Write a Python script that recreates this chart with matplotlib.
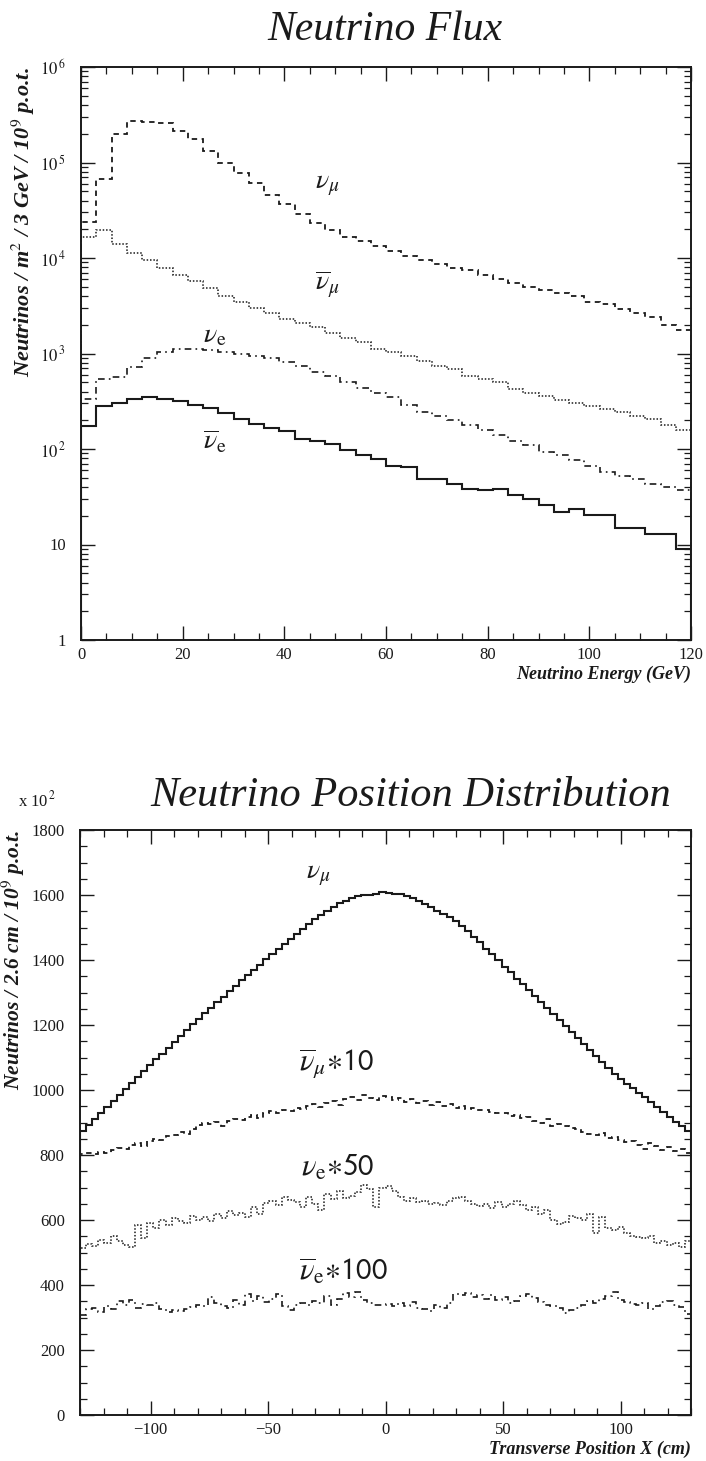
import numpy as np
import matplotlib
matplotlib.use("Agg")
from matplotlib import pyplot as plt
from matplotlib.ticker import FixedLocator, FixedFormatter, MultipleLocator, LogLocator, NullFormatter

plt.rcParams['font.family'] = ['Liberation Serif', 'DejaVu Serif']
plt.rcParams['mathtext.fontset'] = 'stix'

# ---- top panel: flux per 3 GeV bin, 0..120 GeV ----
energy_edges = np.arange(0, 121, 3)
numu = [2.4e4, 6.7e4, 2.0e5, 2.7e5, 2.67e5, 2.57e5, 2.15e5, 1.75e5, 1.33e5, 1.0e5,
        7.8e4, 6.1e4, 4.6e4, 3.7e4, 2.9e4, 2.3e4, 1.95e4, 1.67e4, 1.5e4, 1.32e4,
        1.18e4, 1.04e4, 9.6e3, 8.6e3, 7.9e3, 7.4e3, 6.7e3, 6.1e3, 5.5e3, 5.0e3,
        4.6e3, 4.3e3, 4.0e3, 3.5e3, 3.3e3, 2.9e3, 2.65e3, 2.4e3, 2.0e3, 1.78e3]
numubar = [1.65e4, 1.95e4, 1.41e4, 1.14e4, 9.6e3, 7.9e3, 6.7e3, 5.8e3, 4.8e3, 4.0e3,
           3.5e3, 3.0e3, 2.65e3, 2.3e3, 2.07e3, 1.9e3, 1.65e3, 1.47e3, 1.31e3, 1.12e3,
           1.04e3, 948, 826, 736, 681, 584, 541, 501, 430, 383,
           355, 328, 304, 282, 261, 242, 224, 204, 178, 158]
nue = [330, 541, 562, 719, 891, 1040, 1120, 1120, 1080, 1040,
       1000, 940, 900, 820, 740, 640, 580, 500, 440, 390,
       350, 290, 242, 224, 200, 178, 158, 141, 121, 110,
       93, 86, 76, 66, 58, 52, 48, 43, 40, 37]
nuebar = [175, 282, 304, 336, 347, 336, 316, 288, 267, 236,
          207, 181, 167, 153, 128, 120, 112, 97, 86, 79,
          66, 65, 48, 48, 43, 38, 37, 38, 33, 30,
          26, 22, 23.5, 20.5, 20.5, 15, 15, 13, 13, 9]

# ---- bottom panel: 2.6 cm bins, -130..130 cm ----
pos_edges = np.linspace(-130, 130, 101)
pos_numu = [875, 893, 912, 930, 948, 966, 985, 1003, 1021, 1040,
            1058, 1076, 1094, 1112, 1130, 1148, 1166, 1184, 1202, 1219,
            1236, 1253, 1270, 1287, 1304, 1320, 1337, 1353, 1369, 1385,
            1402, 1418, 1434, 1450, 1466, 1481, 1496, 1511, 1527, 1540,
            1552, 1564, 1574, 1583, 1591, 1597, 1599, 1601, 1603, 1608,
            1606, 1602, 1604, 1596, 1590, 1582, 1572, 1562, 1552, 1543,
            1533, 1520, 1506, 1490, 1472, 1454, 1435, 1417, 1399, 1380,
            1362, 1343, 1325, 1307, 1288, 1270, 1251, 1233, 1214, 1196,
            1178, 1160, 1141, 1123, 1105, 1086, 1068, 1050, 1035, 1020,
            1006, 992, 977, 963, 948, 933, 918, 903, 888, 873]
pos_numubar10 = [802, 805, 803, 810, 806, 815, 822, 818, 830, 836,
                 828, 842, 850, 845, 858, 862, 870, 866, 880, 893,
                 898, 895, 902, 890, 905, 910, 907, 918, 922, 915,
                 930, 935, 928, 940, 936, 945, 942, 950, 958, 948,
                 960, 966, 955, 972, 980, 968, 985, 975, 970, 982,
                 978, 968, 975, 962, 972, 960, 966, 955, 962, 950,
                 956, 946, 950, 942, 945, 938, 940, 932, 928, 930,
                 920, 924, 915, 918, 906, 900, 910, 888, 895, 890,
                 882, 880, 872, 866, 862, 868, 852, 855, 846, 840,
                 842, 832, 820, 836, 828, 815, 825, 812, 818, 805]
pos_nue50 = [515, 525, 520, 540, 530, 550, 535, 522, 518, 585,
             545, 590, 575, 600, 585, 605, 598, 592, 612, 600,
             608, 598, 620, 605, 628, 615, 622, 610, 640, 618,
             652, 660, 645, 670, 662, 655, 640, 672, 650, 632,
             680, 665, 690, 668, 675, 685, 708, 695, 640, 700,
             705, 690, 672, 660, 668, 655, 660, 648, 652, 645,
             660, 668, 672, 660, 650, 642, 648, 638, 655, 640,
             648, 660, 645, 630, 640, 620, 632, 600, 588, 595,
             612, 605, 600, 620, 560, 610, 575, 568, 580, 560,
             552, 548, 545, 550, 530, 535, 522, 528, 518, 535]
pos_nuebar100 = [308, 325, 330, 318, 335, 325, 352, 340, 355, 330,
                 342, 338, 345, 325, 318, 322, 320, 326, 332, 338,
                 335, 362, 345, 336, 330, 355, 340, 372, 350, 365,
                 348, 358, 372, 335, 322, 340, 345, 338, 352, 345,
                 365, 340, 358, 375, 362, 378, 355, 345, 338, 340,
                 342, 336, 344, 335, 348, 330, 326, 320, 338, 330,
                 345, 372, 368, 375, 362, 370, 358, 368, 355, 362,
                 346, 352, 365, 372, 360, 348, 340, 336, 330, 315,
                 322, 330, 340, 352, 345, 358, 365, 380, 355, 348,
                 342, 338, 345, 326, 334, 348, 352, 340, 332, 310]

ink = '#1a1a1a'
fig = plt.figure(figsize=(7.06, 14.61), dpi=100)

# ---------------- top ----------------
ax1 = fig.add_axes([81 / 706, 1 - 640 / 1461, 610 / 706, 573 / 1461])
ax1.stairs(numu, energy_edges, color=ink, lw=1.3, ls=(0, (3, 2.5)))
ax1.stairs(numubar, energy_edges, color=ink, lw=1.1, ls=(0, (1, 1.2)))
ax1.stairs(nue, energy_edges, color=ink, lw=1.2, ls=(0, (4, 2.5, 1, 2.5)))
ax1.stairs(nuebar, energy_edges, color=ink, lw=1.5, ls='-')
ax1.set_yscale('log')
ax1.set_xlim(0, 120)
ax1.set_ylim(1, 1e6)
ax1.xaxis.set_major_locator(MultipleLocator(20))
ax1.xaxis.set_minor_locator(MultipleLocator(5))
ax1.yaxis.set_major_locator(FixedLocator([1, 10, 1e2, 1e3, 1e4, 1e5, 1e6]))
ax1.yaxis.set_major_formatter(FixedFormatter(['1', '10', r'$10^{\,2}$', r'$10^{\,3}$',
                                              r'$10^{\,4}$', r'$10^{\,5}$', r'$10^{\,6}$']))
ax1.yaxis.set_minor_locator(LogLocator(base=10, subs=np.arange(2, 10)))
ax1.yaxis.set_minor_formatter(NullFormatter())

ax1.text(46, 5.4e4, r'$\nu_{\mu}$', fontsize=20, color=ink)
ax1.text(46, 4.6e3, r'$\overline{\nu}_{\mu}$', fontsize=20, color=ink)
ax1.text(24, 1.3e3, r'$\nu_{\mathrm{e}}$', fontsize=20, color=ink)
ax1.text(24, 100, r'$\overline{\nu}_{\mathrm{e}}$', fontsize=20, color=ink)

fig.text(385 / 706, 1 - 30 / 1461, 'Neutrino Flux', fontsize=30, style='italic',
         ha='center', va='center', color=ink)
ax1.set_xlabel('Neutrino Energy (GeV)', fontsize=13, style='italic', fontweight='bold',
               loc='right', labelpad=2, color=ink)
ax1.set_ylabel(r'Neutrinos / m$^{2}$ / 3 GeV / 10$^{9}$ p.o.t.', fontsize=16,
               style='italic', fontweight='bold', loc='top', labelpad=2, color=ink)

# ---------------- bottom ----------------
ax2 = fig.add_axes([80 / 706, 1 - 1415 / 1461, 611 / 706, 585 / 1461])
ax2.stairs(pos_numu, pos_edges, color=ink, lw=1.5, ls='-')
ax2.stairs(pos_numubar10, pos_edges, color=ink, lw=1.3, ls=(0, (3, 2.5)))
ax2.stairs(pos_nue50, pos_edges, color=ink, lw=1.1, ls=(0, (1, 1.2)))
ax2.stairs(pos_nuebar100, pos_edges, color=ink, lw=1.2, ls=(0, (4, 2.5, 1, 2.5)))
ax2.set_xlim(-130, 130)
ax2.set_ylim(0, 1800)
ax2.xaxis.set_major_locator(MultipleLocator(50))
ax2.xaxis.set_minor_locator(MultipleLocator(10))
ax2.yaxis.set_major_locator(MultipleLocator(200))
ax2.yaxis.set_minor_locator(MultipleLocator(50))

ax2.text(-34, 1650, r'$\nu_{\mu}$', fontsize=20, color=ink)
ax2.text(-37, 1060, r'$\overline{\nu}_{\mu}{\ast}\mathsf{10}$', fontsize=22, color=ink)
ax2.text(-36, 735, r'$\nu_{\mathrm{e}}{\ast}\mathsf{50}$', fontsize=22, color=ink)
ax2.text(-37, 415, r'$\overline{\nu}_{\mathrm{e}}{\ast}\mathsf{100}$', fontsize=22, color=ink)

fig.text(411 / 706, 1 - 796 / 1461, 'Neutrino Position Distribution', fontsize=30.5,
         style='italic', ha='center', va='center', color=ink)
fig.text(18 / 706, 1 - 800 / 1461, r'x 10$^{\,2}$', fontsize=12, ha='left', va='center', color=ink)
ax2.set_xlabel('Transverse Position X (cm)', fontsize=13, style='italic', fontweight='bold',
               loc='right', labelpad=2, color=ink)
ax2.set_ylabel(r'Neutrinos / 2.6 cm / 10$^{9}$ p.o.t.', fontsize=15.5,
               style='italic', fontweight='bold', loc='top', labelpad=3, color=ink)

for ax in (ax1, ax2):
    ax.tick_params(which='both', direction='in', top=True, right=True,
                   labelsize=12, colors=ink)
    ax.tick_params(axis='x', which='both', pad=5)
    ax.tick_params(axis='y', which='both', pad=11)
    ax.tick_params(which='major', length=10, width=1.0)
    ax.tick_params(which='minor', length=5, width=0.9)
    for s in ax.spines.values():
        s.set_linewidth(1.4)
        s.set_color(ink)

fig.savefig('out.png', dpi=100)
